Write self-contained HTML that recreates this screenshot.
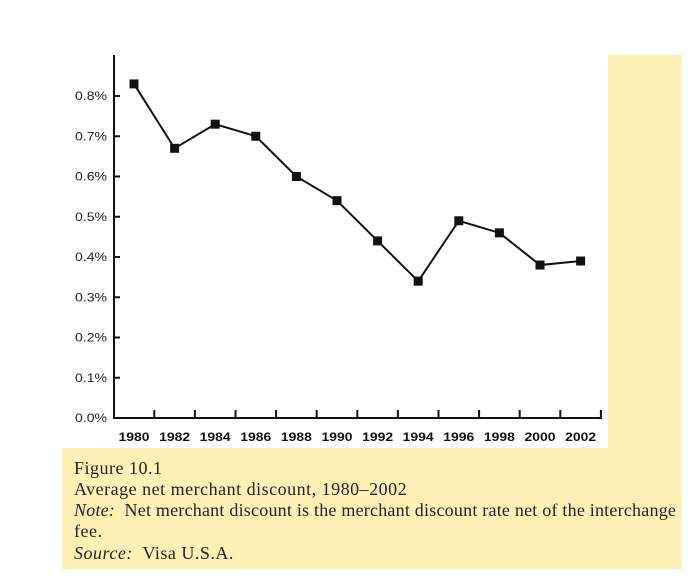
<!DOCTYPE html>
<html><head><meta charset="utf-8"><style>
body{margin:0;width:700px;height:577px;background:#fff;position:relative;overflow:hidden;font-family:"Liberation Serif",serif}
#rpanel{position:absolute;left:608px;top:55px;width:74px;height:514px;background:#fdf1b8}
#cap{position:absolute;left:62px;top:448px;width:620px;height:121px;background:#fdf1b8}
.l{position:absolute;left:12px;font-size:18px;color:#222;white-space:nowrap;letter-spacing:0.5px}
svg{position:absolute;left:0;top:0}
</style></head><body>
<div id="rpanel"></div>
<div id="cap">
<div class="l" style="top:10px">Figure 10.1</div>
<div class="l" style="top:31px">Average net merchant discount, 1980–2002</div>
<div class="l" style="top:52px;letter-spacing:0.22px"><i>Note:</i>&nbsp; Net merchant discount is the merchant discount rate net of the interchange</div>
<div class="l" style="top:73px">fee.</div>
<div class="l" style="top:95px"><i>Source:</i>&nbsp; Visa U.S.A.</div>
</div>
<svg id="chart" width="700" height="577"></svg>
<script>
const years=["1980","1982","1984","1986","1988","1990","1992","1994","1996","1998","2000","2002"];
const values=[0.83,0.67,0.73,0.70,0.60,0.54,0.44,0.34,0.49,0.46,0.38,0.39];
const yTicks=[0,0.1,0.2,0.3,0.4,0.5,0.6,0.7,0.8];
const yTickLabels=["0.0%","0.1%","0.2%","0.3%","0.4%","0.5%","0.6%","0.7%","0.8%"];
const NS="http://www.w3.org/2000/svg";
const svg=document.getElementById('chart');
const x0=114,yBase=418,step=40.6,firstX=134;
function xs(i){return firstX+i*step;}
function ys(v){return yBase-v*402.5;}
function mk(t,a){const e=document.createElementNS(NS,t);for(const k in a)e.setAttribute(k,a[k]);svg.appendChild(e);return e;}
let e=mk('line',{x1:x0,y1:55,x2:x0,y2:yBase+1,stroke:'#111','stroke-width':2});


e=mk('line',{x1:x0-1,y1:yBase,x2:602,y2:yBase,stroke:'#111','stroke-width':2});


yTicks.forEach((v,i)=>{
 const y=ys(v);
 if(i>0){const t=mk('line',{x1:x0,y1:y,x2:x0+6,y2:y,stroke:'#111','stroke-width':2});
 
 }
 const tx=mk('text',{x:75,y:y+4,'font-family':'Liberation Sans, sans-serif','font-size':12,fill:'#222',textLength:32,lengthAdjust:'spacingAndGlyphs'});
 tx.textContent=yTickLabels[i];
 
 
});
years.forEach((yr,i)=>{
 const tx=xs(i)+step/2;
 const t=mk('line',{x1:tx,y1:yBase,x2:tx,y2:yBase-8,stroke:'#111','stroke-width':2});
 
 
 const l=mk('text',{x:xs(i)-15.5,y:441,'font-family':'Liberation Sans, sans-serif','font-size':12,'font-weight':'bold',fill:'#111',textLength:31,lengthAdjust:'spacingAndGlyphs'});
 l.textContent=yr;
 
 
});
const pts=values.map((v,i)=>xs(i)+','+ys(v)).join(' ');
const pl=mk('polyline',{points:pts,fill:'none',stroke:'#111','stroke-width':2});


values.forEach((v,i)=>{
 const r=mk('rect',{x:xs(i)-4.5,y:ys(v)-4.5,width:9,height:9,fill:'#111'});
 
 
});
</script>
</body></html>
